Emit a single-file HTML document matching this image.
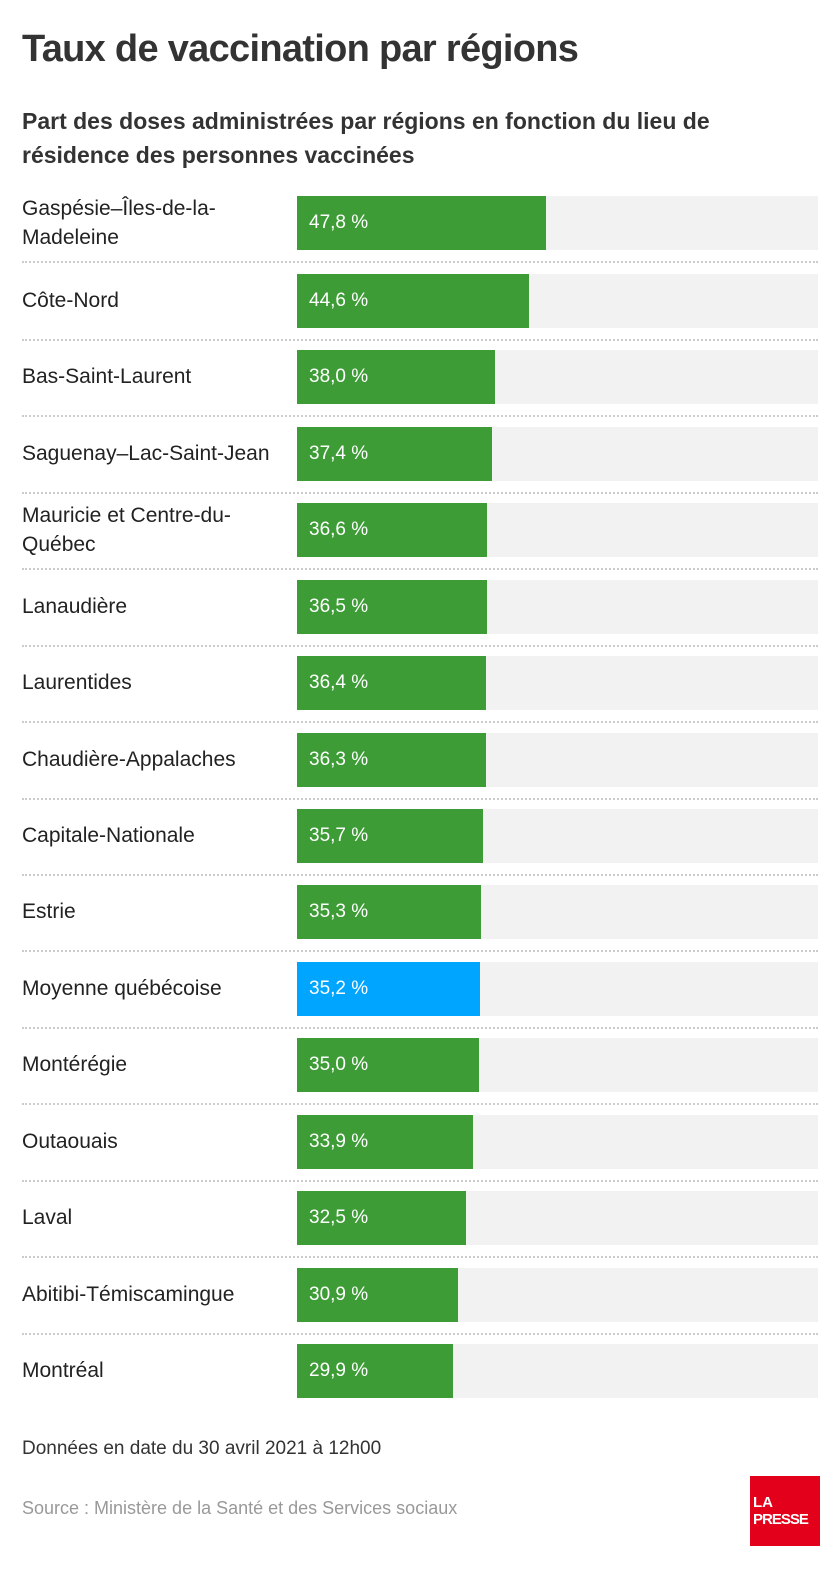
<!DOCTYPE html>
<html><head><meta charset="utf-8"><style>
body{margin:0;width:840px;height:1572px;background:#fff;position:relative;font-family:"Liberation Sans",sans-serif;color:#333;overflow:hidden}
.a{position:absolute}
.t{left:22px;top:28px;font-size:38px;font-weight:bold;color:#333;letter-spacing:-0.7px}
.s{left:22px;top:104px;font-size:23px;font-weight:bold;line-height:34px;width:800px;color:#333}
.lab{left:22px;font-size:21px;line-height:29px;width:265px;color:#222}
.tr{left:297px;width:521px;height:54px;background:#f2f2f2}
.b{left:0;top:0;height:54px;background:#3e9c37}
.v{left:12px;top:0;line-height:54px;color:#fff;font-size:19px}
.d{left:22px;width:796px;border-top:2px dotted #ccc;height:0}
</style></head><body>
<div class="a t">Taux de vaccination par régions</div>
<div class="a s">Part des doses administrées par régions en fonction du lieu de résidence des personnes vaccinées</div>
<div id="rows"></div>
<div class="a" style="left:22px;top:1438px;font-size:19px;color:#333">Données en date du 30 avril 2021 à 12h00</div>
<div class="a" style="left:22px;top:1498px;font-size:18px;color:#999">Source : Ministère de la Santé et des Services sociaux</div>
<div class="a" style="left:750px;top:1476px;width:70px;height:70px;background:#e2001a;color:#fff;font-weight:bold;font-size:15px;line-height:17px">
<div style="position:absolute;left:3px;top:18px">LA</div><div style="position:absolute;left:3px;top:35px;letter-spacing:-1px">PRESSE</div></div>
<script>
var d=[["Gaspésie–Îles-de-la-<br>Madeleine",47.8],["Côte-Nord",44.6],["Bas-Saint-Laurent",38.0],["Saguenay–Lac-Saint-Jean",37.4],["Mauricie et Centre-du-<br>Québec",36.6],["Lanaudière",36.5],["Laurentides",36.4],["Chaudière-Appalaches",36.3],["Capitale-Nationale",35.7],["Estrie",35.3],["Moyenne québécoise",35.2],["Montérégie",35.0],["Outaouais",33.9],["Laval",32.5],["Abitibi-Témiscamingue",30.9],["Montréal",29.9]];
var h="";
d.forEach(function(r,i){
var top=i==0?196:Math.round(274+(i-1)*76.43);
var two=r[0].indexOf("<br>")>=0;
h+='<div class="a lab" style="top:'+(two?top-2:top+12)+'px">'+r[0]+'</div>';
h+='<div class="a tr" style="top:'+top+'px"><div class="a b" style="width:'+(r[1]*5.2).toFixed(1)+'px;'+(i==10?'background:#00a5ff':'')+'"></div><div class="a v">'+r[1].toFixed(1).replace(".",",")+' %</div></div>';
if(i<15)h+='<div class="a d" style="top:'+(top+65)+'px"></div>';
});
document.getElementById("rows").innerHTML=h;
</script>
</body></html>
